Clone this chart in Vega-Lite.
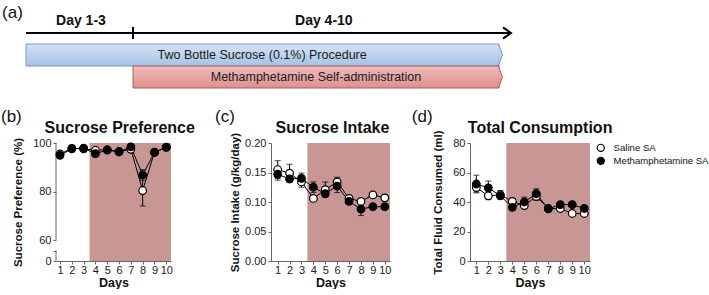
{
  "$schema": "https://vega.github.io/schema/vega-lite/v6.json",
  "padding": 0,
  "background": "white",
  "spacing": 17,
  "datasets": {
    "phases": [
      {"name": "Two Bottle Sucrose (0.1%) Procedure", "lane": "bottle", "start": 0, "end": 10, "mid": 5.47},
      {"name": "Methamphetamine  Self-administration", "lane": "meth", "start": 3, "end": 10, "mid": 6.5}
    ],
    "timeline": [{"lane": "timeline", "start": 0, "end": 10.23, "split": 3}],
    "periods": [
      {"label": "Day 1-3", "lane": "label", "mid": 1.54},
      {"label": "Day 4-10", "lane": "label", "mid": 6.65}
    ],
    "shade": [{"start": 3.5, "end": 11}],
    "bAxis": [{"lo": 60, "hi": 100}, {"lo": 0, "hi": 30}],
    "pref": [
      {"day": 1, "group": "Saline SA", "mean": 95.5, "lo": 94.8, "hi": 96.2},
      {"day": 2, "group": "Saline SA", "mean": 97.8, "lo": 97.2, "hi": 98.4},
      {"day": 3, "group": "Saline SA", "mean": 97.6, "lo": 97.0, "hi": 98.2},
      {"day": 4, "group": "Saline SA", "mean": 97.0, "lo": 96.3, "hi": 97.7},
      {"day": 5, "group": "Saline SA", "mean": 97.2, "lo": 96.6, "hi": 97.8},
      {"day": 6, "group": "Saline SA", "mean": 96.5, "lo": 95.9, "hi": 97.1},
      {"day": 7, "group": "Saline SA", "mean": 97.4, "lo": 96.8, "hi": 98.0},
      {"day": 8, "group": "Saline SA", "mean": 80.4, "lo": 74.0, "hi": 86.8},
      {"day": 9, "group": "Saline SA", "mean": 96.2, "lo": 95.6, "hi": 96.8},
      {"day": 10, "group": "Saline SA", "mean": 98.3, "lo": 97.8, "hi": 98.8},
      {"day": 1, "group": "Methamphetamine SA", "mean": 94.9, "lo": 94.2, "hi": 95.6},
      {"day": 2, "group": "Methamphetamine SA", "mean": 97.6, "lo": 97.0, "hi": 98.2},
      {"day": 3, "group": "Methamphetamine SA", "mean": 97.9, "lo": 97.3, "hi": 98.5},
      {"day": 4, "group": "Methamphetamine SA", "mean": 95.6, "lo": 94.9, "hi": 96.3},
      {"day": 5, "group": "Methamphetamine SA", "mean": 97.1, "lo": 96.5, "hi": 97.7},
      {"day": 6, "group": "Methamphetamine SA", "mean": 96.3, "lo": 95.7, "hi": 96.9},
      {"day": 7, "group": "Methamphetamine SA", "mean": 98.4, "lo": 97.9, "hi": 98.9},
      {"day": 8, "group": "Methamphetamine SA", "mean": 86.8, "lo": 84.6, "hi": 89.0},
      {"day": 9, "group": "Methamphetamine SA", "mean": 96.1, "lo": 95.5, "hi": 96.7},
      {"day": 10, "group": "Methamphetamine SA", "mean": 98.2, "lo": 97.7, "hi": 98.7}
    ],
    "intake": [
      {"day": 1, "group": "Saline SA", "mean": 0.155, "lo": 0.140, "hi": 0.170},
      {"day": 2, "group": "Saline SA", "mean": 0.149, "lo": 0.134, "hi": 0.164},
      {"day": 3, "group": "Saline SA", "mean": 0.134, "lo": 0.125, "hi": 0.143},
      {"day": 4, "group": "Saline SA", "mean": 0.106, "lo": 0.102, "hi": 0.110},
      {"day": 5, "group": "Saline SA", "mean": 0.121, "lo": 0.108, "hi": 0.134},
      {"day": 6, "group": "Saline SA", "mean": 0.134, "lo": 0.126, "hi": 0.142},
      {"day": 7, "group": "Saline SA", "mean": 0.106, "lo": 0.103, "hi": 0.109},
      {"day": 8, "group": "Saline SA", "mean": 0.101, "lo": 0.096, "hi": 0.106},
      {"day": 9, "group": "Saline SA", "mean": 0.112, "lo": 0.108, "hi": 0.116},
      {"day": 10, "group": "Saline SA", "mean": 0.107, "lo": 0.102, "hi": 0.112},
      {"day": 1, "group": "Methamphetamine SA", "mean": 0.147, "lo": 0.137, "hi": 0.157},
      {"day": 2, "group": "Methamphetamine SA", "mean": 0.139, "lo": 0.134, "hi": 0.144},
      {"day": 3, "group": "Methamphetamine SA", "mean": 0.140, "lo": 0.131, "hi": 0.149},
      {"day": 4, "group": "Methamphetamine SA", "mean": 0.125, "lo": 0.116, "hi": 0.134},
      {"day": 5, "group": "Methamphetamine SA", "mean": 0.114, "lo": 0.110, "hi": 0.118},
      {"day": 6, "group": "Methamphetamine SA", "mean": 0.127, "lo": 0.116, "hi": 0.138},
      {"day": 7, "group": "Methamphetamine SA", "mean": 0.101, "lo": 0.098, "hi": 0.104},
      {"day": 8, "group": "Methamphetamine SA", "mean": 0.088, "lo": 0.077, "hi": 0.099},
      {"day": 9, "group": "Methamphetamine SA", "mean": 0.092, "lo": 0.089, "hi": 0.095},
      {"day": 10, "group": "Methamphetamine SA", "mean": 0.092, "lo": 0.088, "hi": 0.096}
    ],
    "fluid": [
      {"day": 1, "group": "Saline SA", "mean": 49.8, "lo": 46.8, "hi": 52.8},
      {"day": 2, "group": "Saline SA", "mean": 44.2, "lo": 41.6, "hi": 46.8},
      {"day": 3, "group": "Saline SA", "mean": 44.9, "lo": 42.0, "hi": 47.8},
      {"day": 4, "group": "Saline SA", "mean": 40.4, "lo": 38.3, "hi": 42.5},
      {"day": 5, "group": "Saline SA", "mean": 37.6, "lo": 35.7, "hi": 39.5},
      {"day": 6, "group": "Saline SA", "mean": 43.8, "lo": 41.1, "hi": 46.5},
      {"day": 7, "group": "Saline SA", "mean": 35.6, "lo": 34.2, "hi": 37.0},
      {"day": 8, "group": "Saline SA", "mean": 35.6, "lo": 33.7, "hi": 37.5},
      {"day": 9, "group": "Saline SA", "mean": 32.2, "lo": 30.8, "hi": 33.6},
      {"day": 10, "group": "Saline SA", "mean": 32.2, "lo": 30.6, "hi": 33.8},
      {"day": 1, "group": "Methamphetamine SA", "mean": 52.2, "lo": 46.2, "hi": 58.2},
      {"day": 2, "group": "Methamphetamine SA", "mean": 49.6, "lo": 45.0, "hi": 54.2},
      {"day": 3, "group": "Methamphetamine SA", "mean": 44.2, "lo": 42.4, "hi": 46.0},
      {"day": 4, "group": "Methamphetamine SA", "mean": 36.4, "lo": 34.3, "hi": 38.5},
      {"day": 5, "group": "Methamphetamine SA", "mean": 40.0, "lo": 36.7, "hi": 43.3},
      {"day": 6, "group": "Methamphetamine SA", "mean": 45.6, "lo": 42.3, "hi": 48.9},
      {"day": 7, "group": "Methamphetamine SA", "mean": 35.3, "lo": 33.8, "hi": 36.8},
      {"day": 8, "group": "Methamphetamine SA", "mean": 38.2, "lo": 36.4, "hi": 40.0},
      {"day": 9, "group": "Methamphetamine SA", "mean": 38.2, "lo": 36.9, "hi": 39.5},
      {"day": 10, "group": "Methamphetamine SA", "mean": 35.6, "lo": 33.9, "hi": 37.3}
    ]
  },
  "vconcat": [
    {
      "width": 560,
      "height": 88,
      "layer": [
        {
          "data": {"name": "phases"},
          "transform": [{"filter": "datum.lane == 'bottle'"}],
          "mark": {"type": "rect", "stroke": "#7898c4", "strokeWidth": 1,
            "fill": {"gradient": "linear", "x1": 0, "y1": 0, "x2": 0, "y2": 1, "stops": [{"offset": 0, "color": "#d6e4f4"}, {"offset": 1, "color": "#a4c1e4"}]}},
          "encoding": {
            "x": {"field": "start", "type": "quantitative", "axis": null,
              "scale": {"type": "linear", "domain": [0, 3, 10], "range": [-30, 77, 443], "zero": false, "nice": false}},
            "x2": {"field": "end"},
            "y": {"field": "lane", "type": "nominal", "axis": null,
              "scale": {"type": "band", "domain": ["label", "timeline", "bottle", "meth"], "paddingInner": 0, "paddingOuter": 0}}
          }
        },
        {
          "data": {"name": "phases"},
          "transform": [{"filter": "datum.lane == 'bottle'"}],
          "mark": {"type": "point", "shape": "M -0.06 -1 L 0.32 0 L -0.06 1", "size": 484, "filled": true, "opacity": 1, "stroke": "#7898c4", "strokeWidth": 1,
            "fill": {"gradient": "linear", "x1": 0, "y1": 0, "x2": 0, "y2": 1, "stops": [{"offset": 0, "color": "#d6e4f4"}, {"offset": 1, "color": "#a4c1e4"}]}},
          "encoding": {
            "x": {"field": "end", "type": "quantitative"},
            "y": {"field": "lane", "type": "nominal"}
          }
        },
        {
          "data": {"name": "phases"},
          "transform": [{"filter": "datum.lane == 'meth'"}],
          "mark": {"type": "rect", "stroke": "#b25e5c", "strokeWidth": 1,
            "fill": {"gradient": "linear", "x1": 0, "y1": 0, "x2": 0, "y2": 1, "stops": [{"offset": 0, "color": "#f0bdbc"}, {"offset": 1, "color": "#de8f8e"}]}},
          "encoding": {
            "x": {"field": "start", "type": "quantitative"},
            "x2": {"field": "end"},
            "y": {"field": "lane", "type": "nominal"}
          }
        },
        {
          "data": {"name": "phases"},
          "transform": [{"filter": "datum.lane == 'meth'"}],
          "mark": {"type": "point", "shape": "M -0.06 -1 L 0.32 0 L -0.06 1", "size": 484, "filled": true, "opacity": 1, "stroke": "#b25e5c", "strokeWidth": 1,
            "fill": {"gradient": "linear", "x1": 0, "y1": 0, "x2": 0, "y2": 1, "stops": [{"offset": 0, "color": "#f0bdbc"}, {"offset": 1, "color": "#de8f8e"}]}},
          "encoding": {
            "x": {"field": "end", "type": "quantitative"},
            "y": {"field": "lane", "type": "nominal"}
          }
        },
        {
          "data": {"name": "phases"},
          "mark": {"type": "text", "fontSize": 12.5, "color": "#1a1a1a", "baseline": "middle", "align": "center"},
          "encoding": {
            "x": {"field": "mid", "type": "quantitative"},
            "y": {"field": "lane", "type": "nominal"},
            "text": {"field": "name"}
          }
        },
        {
          "data": {"name": "timeline"},
          "mark": {"type": "rule", "color": "black", "strokeWidth": 2},
          "encoding": {
            "x": {"field": "start", "type": "quantitative"},
            "x2": {"field": "end"},
            "y": {"field": "lane", "type": "nominal", "bandPosition": 0.5}
          }
        },
        {
          "data": {"name": "timeline"},
          "mark": {"type": "point", "shape": "M -1 -0.7 L 0 0 L -1 0.7", "size": 256, "filled": false, "opacity": 1, "stroke": "black", "strokeWidth": 2},
          "encoding": {
            "x": {"field": "end", "type": "quantitative"},
            "y": {"field": "lane", "type": "nominal"}
          }
        },
        {
          "data": {"name": "timeline"},
          "mark": {"type": "tick", "color": "black", "size": 12, "thickness": 2, "opacity": 1},
          "encoding": {
            "x": {"field": "split", "type": "quantitative"},
            "y": {"field": "lane", "type": "nominal"}
          }
        },
        {
          "data": {"name": "periods"},
          "mark": {"type": "text", "fontSize": 14, "fontWeight": "bold", "color": "#111", "baseline": "alphabetic", "dy": 14},
          "encoding": {
            "x": {"field": "mid", "type": "quantitative"},
            "y": {"field": "lane", "type": "nominal"},
            "text": {"field": "label"}
          }
        },
        {
          "data": {"values": [{"panel": "(a)"}]},
          "mark": {"type": "text", "fontSize": 17, "color": "#111", "align": "left", "baseline": "alphabetic", "dy": 7},
          "encoding": {
            "x": {"datum": -0.67, "type": "quantitative"},
            "y": {"datum": "label", "type": "nominal"},
            "text": {"field": "panel"}
          }
        }
      ]
    },
    {
      "spacing": 20,
      "resolve": {"scale": {"fill": "independent"}, "legend": {"fill": "independent"}},
      "hconcat": [
        {
          "width": 115,
          "height": 118,
          "layer": [
            {
              "data": {"name": "shade"},
              "mark": {"type": "rect", "color": "#c89794", "clip": true},
              "encoding": {
                "x": {"field": "start", "type": "quantitative", "title": "Days",
                  "scale": {"domain": [0.66, 10.4], "nice": false, "zero": false},
                  "axis": {"values": [1, 2, 3, 4, 5, 6, 7, 8, 9, 10], "tickCount": 20, "format": "d"}},
                "x2": {"field": "end"}
              }
            },
            {
              "data": {"name": "bAxis"},
              "mark": {"type": "rule", "color": "#666", "strokeWidth": 1},
              "encoding": {
                "x": {"datum": 0.66, "type": "quantitative"},
                "y": {"field": "lo", "type": "quantitative", "title": "Sucrose Preference (%)",
                  "scale": {"domain": [0, 60, 100], "range": [118, 97, 0], "nice": false, "zero": false},
                  "axis": {"values": [0, 30, 60, 80, 100], "tickCount": 20, "format": "d", "labelExpr": "datum.value == 30 ? '' : datum.label", "domain": false, "titlePadding": 9}},
                "y2": {"field": "hi"}
              }
            },
            {
              "data": {"name": "pref"},
              "mark": {"type": "errorbar", "ticks": {"size": 6}, "color": "black", "thickness": 1},
              "encoding": {
                "x": {"field": "day", "type": "quantitative", "title": "Days"},
                "y": {"field": "lo", "type": "quantitative", "title": "Sucrose Preference (%)"},
                "y2": {"field": "hi"}
              }
            },
            {
              "data": {"name": "pref"},
              "mark": {"type": "line", "color": "black", "strokeWidth": 1},
              "encoding": {
                "x": {"field": "day", "type": "quantitative", "title": "Days"},
                "y": {"field": "mean", "type": "quantitative", "title": "Sucrose Preference (%)"},
                "detail": {"field": "group"}
              }
            },
            {
              "data": {"name": "pref"},
              "mark": {"type": "point", "shape": "circle", "filled": true, "opacity": 1, "stroke": "black", "strokeWidth": 1.2, "size": 58},
              "encoding": {
                "x": {"field": "day", "type": "quantitative", "title": "Days"},
                "y": {"field": "mean", "type": "quantitative", "title": "Sucrose Preference (%)"},
                "fill": {"field": "group", "type": "nominal", "legend": null,
                  "scale": {"domain": ["Saline SA", "Methamphetamine SA"], "range": ["white", "black"]}}
              }
            },
            {
              "data": {"values": [{"panel": "(b)", "heading": "Sucrose Preference"}]},
              "layer": [
                {
                  "mark": {"type": "text", "fontSize": 17, "color": "#111", "align": "left", "baseline": "middle"},
                  "encoding": {
                    "x": {"datum": -4.0, "type": "quantitative"},
                    "y": {"datum": 110.7, "type": "quantitative"},
                    "text": {"field": "panel"}
                  }
                },
                {
                  "mark": {"type": "text", "fontSize": 16, "fontWeight": "bold", "color": "#111", "align": "center", "baseline": "middle"},
                  "encoding": {
                    "x": {"datum": 6.06, "type": "quantitative"},
                    "y": {"datum": 106.2, "type": "quantitative"},
                    "text": {"field": "heading"}
                  }
                }
              ]
            }
          ]
        },
        {
          "width": 119,
          "height": 118,
          "layer": [
            {
              "data": {"name": "shade"},
              "mark": {"type": "rect", "color": "#c89794", "clip": true},
              "encoding": {
                "x": {"field": "start", "type": "quantitative", "title": "Days",
                  "scale": {"domain": [0.44, 10.44], "nice": false, "zero": false},
                  "axis": {"values": [1, 2, 3, 4, 5, 6, 7, 8, 9, 10], "tickCount": 20, "format": "d"}},
                "x2": {"field": "end"}
              }
            },
            {
              "data": {"name": "intake"},
              "mark": {"type": "errorbar", "ticks": {"size": 6}, "color": "black", "thickness": 1},
              "encoding": {
                "x": {"field": "day", "type": "quantitative", "title": "Days"},
                "y": {"field": "lo", "type": "quantitative", "title": "Sucrose Intake (g/kg/day)",
                  "scale": {"domain": [0, 0.2], "nice": false, "zero": false},
                  "axis": {"values": [0, 0.05, 0.1, 0.15, 0.2], "tickCount": 20, "format": ".2f", "titlePadding": 4}},
                "y2": {"field": "hi"}
              }
            },
            {
              "data": {"name": "intake"},
              "mark": {"type": "line", "color": "black", "strokeWidth": 1},
              "encoding": {
                "x": {"field": "day", "type": "quantitative", "title": "Days"},
                "y": {"field": "mean", "type": "quantitative", "title": "Sucrose Intake (g/kg/day)"},
                "detail": {"field": "group"}
              }
            },
            {
              "data": {"name": "intake"},
              "mark": {"type": "point", "shape": "circle", "filled": true, "opacity": 1, "stroke": "black", "strokeWidth": 1.2, "size": 58},
              "encoding": {
                "x": {"field": "day", "type": "quantitative", "title": "Days"},
                "y": {"field": "mean", "type": "quantitative", "title": "Sucrose Intake (g/kg/day)"},
                "fill": {"field": "group", "type": "nominal", "legend": null,
                  "scale": {"domain": ["Saline SA", "Methamphetamine SA"], "range": ["white", "black"]}}
              }
            },
            {
              "data": {"values": [{"panel": "(c)", "heading": "Sucrose Intake"}]},
              "layer": [
                {
                  "mark": {"type": "text", "fontSize": 17, "color": "#111", "align": "left", "baseline": "middle"},
                  "encoding": {
                    "x": {"datum": -4.26, "type": "quantitative"},
                    "y": {"datum": 0.2441, "type": "quantitative"},
                    "text": {"field": "panel"}
                  }
                },
                {
                  "mark": {"type": "text", "fontSize": 16, "fontWeight": "bold", "color": "#111", "align": "center", "baseline": "middle"},
                  "encoding": {
                    "x": {"datum": 5.6, "type": "quantitative"},
                    "y": {"datum": 0.2254, "type": "quantitative"},
                    "text": {"field": "heading"}
                  }
                }
              ]
            }
          ]
        },
        {
          "width": 120,
          "height": 118,
          "layer": [
            {
              "data": {"name": "shade"},
              "mark": {"type": "rect", "color": "#c89794", "clip": true},
              "encoding": {
                "x": {"field": "start", "type": "quantitative", "title": "Days",
                  "scale": {"domain": [0.47, 10.48], "nice": false, "zero": false},
                  "axis": {"values": [1, 2, 3, 4, 5, 6, 7, 8, 9, 10], "tickCount": 20, "format": "d"}},
                "x2": {"field": "end"}
              }
            },
            {
              "data": {"name": "fluid"},
              "mark": {"type": "errorbar", "ticks": {"size": 6}, "color": "black", "thickness": 1},
              "encoding": {
                "x": {"field": "day", "type": "quantitative", "title": "Days"},
                "y": {"field": "lo", "type": "quantitative", "title": "Total Fluid Consumed (ml)",
                  "scale": {"domain": [0, 80], "nice": false, "zero": false},
                  "axis": {"values": [0, 20, 40, 60, 80], "tickCount": 20, "format": "d", "titlePadding": 9}},
                "y2": {"field": "hi"}
              }
            },
            {
              "data": {"name": "fluid"},
              "mark": {"type": "line", "color": "black", "strokeWidth": 1},
              "encoding": {
                "x": {"field": "day", "type": "quantitative", "title": "Days"},
                "y": {"field": "mean", "type": "quantitative", "title": "Total Fluid Consumed (ml)"},
                "detail": {"field": "group"}
              }
            },
            {
              "data": {"name": "fluid"},
              "mark": {"type": "point", "shape": "circle", "filled": true, "opacity": 1, "stroke": "black", "strokeWidth": 1.2, "size": 58},
              "encoding": {
                "x": {"field": "day", "type": "quantitative", "title": "Days"},
                "y": {"field": "mean", "type": "quantitative", "title": "Total Fluid Consumed (ml)"},
                "fill": {"field": "group", "type": "nominal",
                  "scale": {"domain": ["Saline SA", "Methamphetamine SA"], "range": ["white", "black"]},
                  "legend": {"title": null, "orient": "right", "offset": 6, "padding": 0, "symbolType": "circle", "symbolStrokeColor": "black", "symbolStrokeWidth": 1.2, "symbolSize": 50, "labelFontSize": 9.6, "labelColor": "#111", "rowPadding": 0, "labelOffset": 8}}
              }
            },
            {
              "data": {"values": [{"panel": "(d)", "heading": "Total Consumption"}]},
              "layer": [
                {
                  "mark": {"type": "text", "fontSize": 17, "color": "#111", "align": "left", "baseline": "middle"},
                  "encoding": {
                    "x": {"datum": -4.38, "type": "quantitative"},
                    "y": {"datum": 97.6, "type": "quantitative"},
                    "text": {"field": "panel"}
                  }
                },
                {
                  "mark": {"type": "text", "fontSize": 16, "fontWeight": "bold", "color": "#111", "align": "center", "baseline": "middle"},
                  "encoding": {
                    "x": {"datum": 6.32, "type": "quantitative"},
                    "y": {"datum": 90.2, "type": "quantitative"},
                    "text": {"field": "heading"}
                  }
                }
              ]
            }
          ]
        }
      ]
    }
  ],
  "config": {
    "font": "Liberation Sans",
    "view": {"stroke": null},
    "axis": {
      "grid": false,
      "tickCount": 20,
      "labelOverlap": false,
      "labelFlush": false,
      "labelFont": "Liberation Sans",
      "labelFontSize": 11,
      "labelColor": "#222",
      "labelPadding": 2,
      "titleFont": "Liberation Sans",
      "titleFontSize": 11.5,
      "titleFontWeight": "bold",
      "titleColor": "#111",
      "domainColor": "#666",
      "tickColor": "#666",
      "tickSize": 3
    },
    "axisX": {"titleFontSize": 12.5, "titlePadding": 1, "labelPadding": 0},
    "legend": {"labelFont": "Liberation Sans"}
  }
}
